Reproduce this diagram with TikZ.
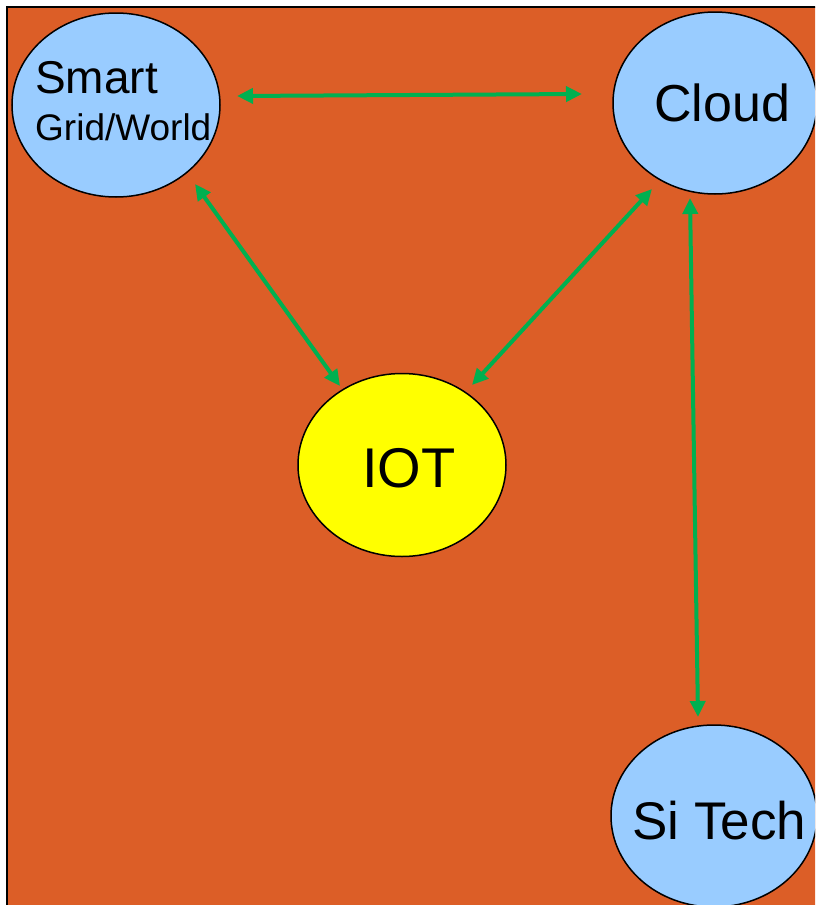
\documentclass[tikz,border=0pt]{standalone}
\usepackage{fontspec}
\setmainfont{Liberation Sans}
\usetikzlibrary{shapes.geometric,arrows.meta}
\definecolor{bgorange}{HTML}{DC5E27}
\definecolor{lblue}{HTML}{99CCFF}
\definecolor{aygreen}{HTML}{00B050}
\definecolor{iotyellow}{HTML}{FFFF00}
\tikzset{
  bubble/.style={ellipse, draw=black, line width=1.5pt, inner sep=0pt},
  blue bubble/.style={bubble, fill=lblue},
  label text/.style={anchor=base west, inner sep=0pt, text=black},
  link/.style={aygreen, line width=4pt,
    {Triangle[length=16pt,width=15pt]}-{Triangle[length=16pt,width=15pt]}}
}
\begin{document}
\begin{tikzpicture}[x=1pt,y=-1pt]
\useasboundingbox (0,0) rectangle (815,905);
\clip (0,0) rectangle (815,905);
\fill[white] (0,0) rectangle (815,905);
\draw[fill=bgorange, draw=black, line width=2pt] (7,7) rectangle (830,920);
% bubbles
\node[blue bubble, minimum width=208pt, minimum height=184pt] (smart) at (116,105) {};
\node[blue bubble, minimum width=204pt, minimum height=182pt] (cloud) at (715,103) {};
\node[blue bubble, minimum width=206pt, minimum height=182pt] (sitech) at (714,816) {};
\node[bubble, fill=iotyellow, minimum width=208pt, minimum height=183pt] (iot) at (402,465) {};
% texts
\node[label text, font=\fontsize{46}{50}\selectfont] (tsmart) at (35,93) {Smart};
\node[label text, font=\fontsize{37}{42}\selectfont] (tgrid) at (35,140) {Grid/World};
\node[label text, font=\fontsize{52}{56}\selectfont] (tcloud) at (654,121) {Cloud};
\node[label text, font=\fontsize{56}{60}\selectfont] (tiot) at (362,487) {IOT};
\node[label text, font=\fontsize{53}{58}\selectfont] (tsi) at (632,839) {Si Tech};
% arrow end points
\coordinate (a1) at (237,96);
\coordinate (a2) at (582,94);
\coordinate (b1) at (195,184);
\coordinate (b2) at (340,386);
\coordinate (c1) at (652,189);
\coordinate (c2) at (472,385);
\coordinate (d1) at (690,198);
\coordinate (d2) at (698,717);
\draw[link] (a1) -- (a2);
\draw[link] (b1) -- (b2);
\draw[link] (c1) -- (c2);
\draw[link] (d1) -- (d2);
\end{tikzpicture}
\end{document}
